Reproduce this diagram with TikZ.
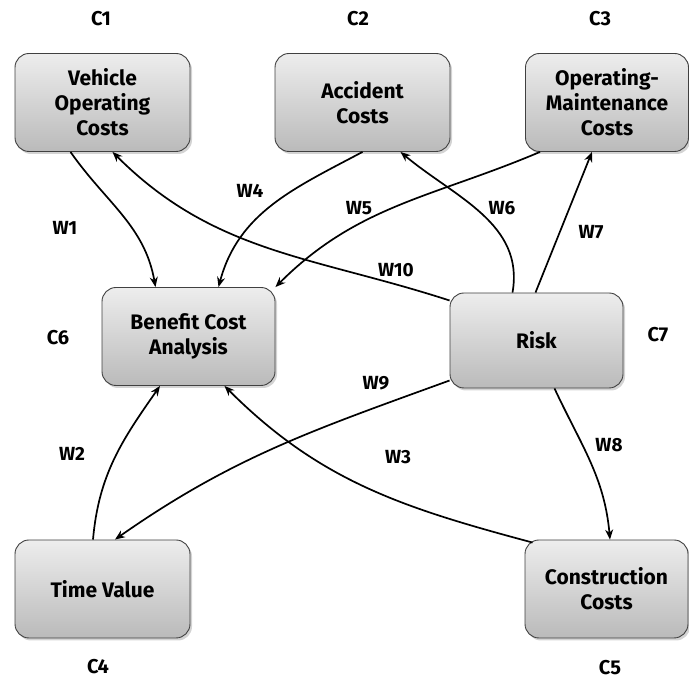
\documentclass[tikz,border=0pt]{standalone}
\usepackage{fontspec}
\setmainfont{Fira Sans}
\usetikzlibrary{positioning,arrows.meta,shadows}

\begin{document}
\begin{tikzpicture}[x=1pt,y=1pt,
  factor/.style={draw=black!75, line width=0.9pt, rounded corners=14pt,
    top color=black!7, bottom color=black!27,
    drop shadow={shadow xshift=2pt,shadow yshift=-2.5pt,opacity=0.35},
    minimum width=175pt, minimum height=98pt, align=center, inner sep=2pt,
    font=\bfseries\fontsize{21}{25}\selectfont},
  clabel/.style={font=\bfseries\fontsize{20}{22}\selectfont},
  wlabel/.style={font=\bfseries\fontsize{19}{21}\selectfont},
  link/.style={line width=1.7pt, -{Stealth[length=10pt,width=8pt]}}]

\useasboundingbox (0,0) rectangle (689,682);

% Criteria boxes
\node[factor] (voc) at (102.5,579.5) {Vehicle\\Operating\\Costs};
\node[factor] (acc) at (362.5,579.5) {Accident\\Costs};
\node[factor, minimum width=163pt] (opm) at (607,579.5) {Operating-\\Maintenance\\Costs};
\node[factor, minimum width=173pt] (bca) at (188.5,345.5) {Benefit Cost\\Analysis};
\node[factor, minimum width=173pt, minimum height=95pt] (risk) at (536.5,341.5) {Risk};
\node[factor] (tv) at (102.5,93) {Time Value};
\node[factor, minimum width=163pt] (cc) at (606.5,93) {Construction\\Costs};

% Criterion names
\foreach \n/\x/\y in {1/101/663, 2/358/663, 3/600/663, 4/98/15, 5/610/14, 6/58/344, 7/658/347} {
  \node[clabel] (c\n) at (\x,\y) {C\n};
}

% Weighted links
\draw[link] ([xshift=-32pt]voc.south) to[out=-55,in=100] ([xshift=-33pt]bca.north);
\draw[link] ([yshift=40pt]risk.west) to[out=162,in=-45] ([xshift=10pt]voc.south);
\draw[link] (acc.south) to[out=-152,in=75] ([xshift=30pt]bca.north);
\draw[link] ([xshift=-67pt]opm.south) to[out=-157,in=45] (bca.north east);
\draw[link] ([xshift=-24pt]risk.north) to[out=80,in=-40] ([xshift=38pt]acc.south);
\draw[link] ([xshift=-1pt]risk.north) -- ([xshift=-15pt]opm.south);
\draw[link] ([yshift=-40pt]risk.west) to[out=-160,in=35] ([xshift=12.5pt]tv.north);
\draw[link] ([xshift=-9.5pt]tv.north) to[out=85,in=-125] ([xshift=-28.5pt]bca.south);
\draw[link] ([xshift=8pt,yshift=-3pt]cc.north west) to[out=165,in=-45] ([xshift=36pt]bca.south);
\draw[link] ([xshift=18pt]risk.south) to[out=-65,in=95] ([xshift=3.5pt]cc.north);

% Weights
\foreach \n/\x/\y in {1/65/454, 2/72/228, 3/398/225, 4/250/491, 5/359/474,
                      6/502/474, 7/591/450, 8/609/237, 9/376/299, 10/396/412} {
  \node[wlabel] (w\n) at (\x,\y) {W\n};
}
\end{tikzpicture}
\end{document}
